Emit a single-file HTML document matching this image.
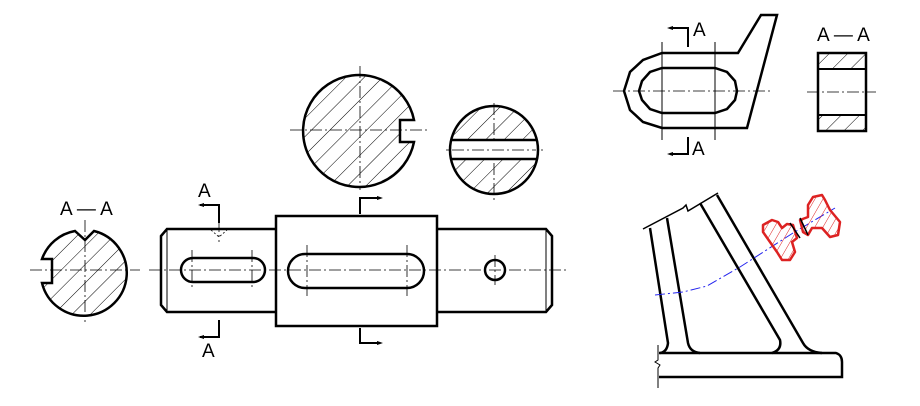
<!DOCTYPE html>
<html><head><meta charset="utf-8"><style>
html,body{margin:0;padding:0;background:#fff;}
svg{display:block;}
text{font-family:"Liberation Sans Narrow","Liberation Sans",sans-serif;font-size:19px;fill:#000;}
</style></head><body>
<svg width="920" height="406" viewBox="0 0 920 406">
<defs>
<pattern id="h" patternUnits="userSpaceOnUse" width="13" height="13" patternTransform="rotate(45)">
<line x1="0" y1="0" x2="0" y2="13" stroke="#000" stroke-width="1"/></pattern>
<pattern id="hr" patternUnits="userSpaceOnUse" width="7" height="7" patternTransform="rotate(30)">
<line x1="0" y1="0" x2="0" y2="7" stroke="#d22" stroke-width="1"/></pattern>
</defs>
<g fill="none" stroke="#000" stroke-width="0.8" stroke-dasharray="12,3,2,3">
<line x1="149" y1="270" x2="568" y2="270"/>
<line x1="30" y1="270" x2="140" y2="270"/>
<line x1="85" y1="220" x2="85" y2="322"/>
<line x1="290" y1="130" x2="430" y2="130"/>
<line x1="360" y1="66" x2="360" y2="190"/>
<line x1="446" y1="150" x2="543" y2="150"/>
<line x1="494" y1="103" x2="494" y2="203"/>
<line x1="192" y1="250" x2="192" y2="290"/><line x1="252" y1="250" x2="252" y2="290"/>
<line x1="307" y1="245" x2="307" y2="296"/><line x1="407" y1="245" x2="407" y2="296"/>
<line x1="495" y1="255" x2="495" y2="285"/>
<line x1="219" y1="220" x2="219" y2="242"/>
<line x1="613" y1="91" x2="771" y2="91"/>
<line x1="807" y1="92" x2="876" y2="92"/>
</g>
<g>
<path d="M75,231 L85,240 L94,231 A43,43 0 1 1 42,283 L52,283 L52,259 L42,259 A43,43 0 0 1 75,231Z" fill="url(#h)" stroke="#000" stroke-width="2.5"/>
<text x="60" y="215">A — A</text>
</g>
<g fill="none" stroke="#000" stroke-width="2.5">
<path d="M276,229 L167,229 L161,236 L161,305 L167,312 L276,312"/>
<line x1="167" y1="229" x2="167" y2="312" stroke-width="1"/>
<rect x="276" y="216" width="161" height="110"/>
<path d="M437,229 L546,229 L552,236 L552,305 L546,312 L437,312"/>
<line x1="546" y1="229" x2="546" y2="312" stroke-width="1"/>
<rect x="181" y="258" width="84" height="24" rx="12"/>
<rect x="288" y="254" width="136" height="34" rx="17"/>
<circle cx="495" cy="270" r="10"/>
<path d="M211,230 L219,237 L227,230" stroke-width="0.8" stroke-dasharray="2,2"/>
<path d="M219,223 L219,205 L200,205" stroke-width="2"/>
<path d="M219,320 L219,337 L200,337" stroke-width="2"/>
<path d="M360,214 L360,198 L380,198" stroke-width="2"/>
<path d="M360,328 L360,343 L380,343" stroke-width="2"/>
</g>
<g fill="#000">
<path d="M198,205 l6,-2 v4z"/><path d="M198,337 l6,-2 v4z"/>
<path d="M383,198 l-6,-2 v4z"/><path d="M383,343 l-6,-2 v4z"/>
</g>
<text x="198" y="197">A</text>
<text x="202" y="357">A</text>
<g>
<path d="M414,120 L400,120 L400,142 L414,142 A56,56 0 1 1 414,120Z" fill="url(#h)" stroke="#000" stroke-width="2.5"/>
</g>
<g>
<circle cx="494" cy="150" r="44" fill="url(#h)" stroke="none"/>
<rect x="449" y="140" width="90" height="19" fill="#fff" stroke="none"/>
<line x1="451" y1="140" x2="537" y2="140" stroke="#000" stroke-width="2.5"/>
<line x1="451" y1="159" x2="537" y2="159" stroke="#000" stroke-width="2.5"/>
<line x1="452" y1="150" x2="536" y2="150" stroke="#000" stroke-width="0.8" stroke-dasharray="12,3,2,3"/>
<circle cx="494" cy="150" r="44" fill="none" stroke="#000" stroke-width="2.5"/>
</g>
<g fill="none" stroke="#000" stroke-width="2.5">
<path d="M662,53 L738,53 L761,15 L777,15 L747,128 L662,128 L643,122 L630,110 L624,91 L630,72 L643,60Z"/>
<path d="M662,68 L715,68 L727,72 L735,81 L737,91 L735,100 L727,109 L715,113 L662,113 L650,109 L642,100 L639,91 L642,81 L650,72Z"/>
<line x1="662" y1="42" x2="662" y2="140" stroke-width="1"/>
<line x1="715" y1="42" x2="715" y2="140" stroke-width="1"/>
<path d="M688,47 L688,28 L670,28" stroke-width="2"/>
<path d="M688,137 L688,154 L670,154" stroke-width="2"/>
</g>
<path d="M667,28 l6,-2 v4z M667,154 l6,-2 v4z" fill="#000"/>
<text x="693" y="36">A</text><text x="692" y="155">A</text>
<g>
<rect x="818" y="53" width="48" height="16" fill="url(#h)"/>
<rect x="818" y="115" width="48" height="16" fill="url(#h)"/>
<rect x="818" y="53" width="48" height="78" fill="none" stroke="#000" stroke-width="2.5"/>
<line x1="818" y1="69" x2="866" y2="69" stroke="#000" stroke-width="2"/>
<line x1="818" y1="115" x2="866" y2="115" stroke="#000" stroke-width="2"/>
<text x="817" y="41">A — A</text>
</g>
<g fill="none" stroke="#000" stroke-width="2.5">
<path d="M643,229 L683,208 L686,205 L688,211 L718,193" stroke-width="1.5"/>
<path d="M650,228 L668,343 Q667,352 660,353"/>
<path d="M667,218 L688,343 Q690,352 700,353"/>
<path d="M700,203 L780,340 Q782,350 772,353"/>
<path d="M717,195 L803,343 Q808,352 822,353"/>
<path d="M659,353 L836,353 Q842,355 842,362 L842,377 L659,377"/>
<path d="M658,345 L658,360 L655,362 L660,365 L658,368 L658,388" stroke-width="1"/>
<path d="M655,295 L683,292 L707,286 L740,267 L793,233 L835,208" stroke="#22e" stroke-width="1" stroke-dasharray="10,3,2,3"/>
</g>
<g stroke="#d22" stroke-width="2.5" fill="url(#hr)" stroke-linejoin="round">
<path d="M763,225 L772,220 L778,222 L782,228 L787,224 L793,225 L797,238 L792,242 L795,252 L790,260 L782,260 L777,252 L770,242 L763,232Z"/>
<path d="M800,220 L808,217 L808,205 L813,197 L822,195 L825,200 L830,210 L840,222 L838,235 L830,237 L822,228 L812,228 L808,235 L803,232Z"/>
</g>
<path d="M790,223 L800,238 M800,218 L808,235" stroke="#000" stroke-width="1.5" fill="none"/>
</svg>
</body></html>
